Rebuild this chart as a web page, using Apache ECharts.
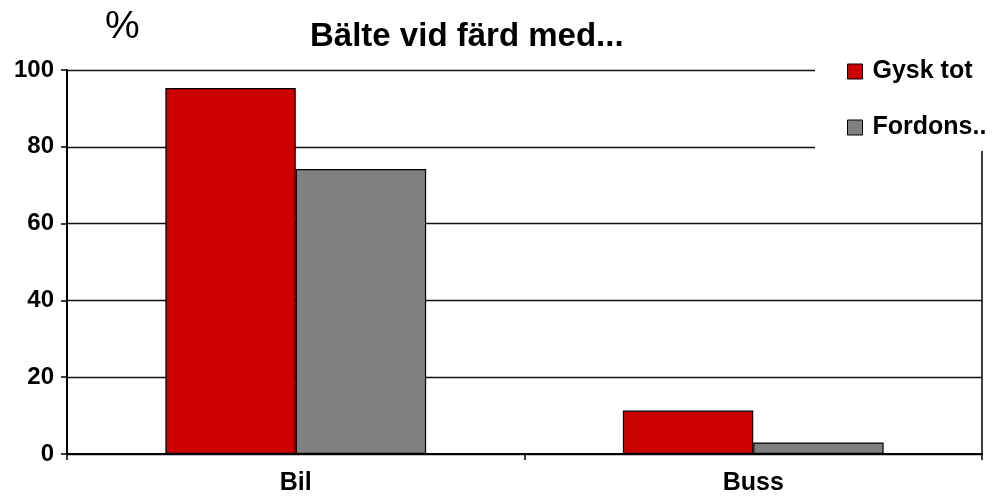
<!DOCTYPE html>
<html>
<head>
<meta charset="utf-8">
<script src="https://cdn.jsdelivr.net/npm/echarts@6/dist/echarts.min.js"></script>
<style>
  html, body { margin: 0; padding: 0; background: #fff; }
  #chart { width: 996px; height: 496px; }
</style>
</head>
<body>
<div id="chart"></div>
<script>
// data
const categories = ['Bil', 'Buss'];
const gyskTot = [95.3, 11.3];
const fordons = [74.2, 3.0];
const seriesNames = ['Gysk tot', 'Fordons..'];
const yTicks = { min: 0, max: 100, interval: 20 };

const font = '"Liberation Sans", Arial, sans-serif';
const chart = echarts.init(document.getElementById('chart'));

chart.setOption({
  animation: false,
  backgroundColor: '#fff',
  title: [
    {
      text: 'Bälte vid färd med...',
      left: 305, top: 15,
      textStyle: { fontFamily: font, fontSize: 33, fontWeight: 'bold', color: '#000' },
    },
    {
      text: '%',
      left: 100, top: 3,
      textStyle: { fontFamily: font, fontSize: 39, fontWeight: 'normal', color: '#000' },
    },
  ],
  legend: {
    orient: 'vertical',
    left: 815, top: 50,
    padding: [9, 10, 11, 32],
    itemGap: 31,
    itemWidth: 15, itemHeight: 15,
    backgroundColor: '#fff',
    icon: 'rect',
    data: seriesNames,
    itemStyle: { borderColor: '#000', borderWidth: 1 },
    textStyle: { fontFamily: font, fontSize: 25, fontWeight: 'bold', color: '#000', padding: [0, 0, 0, 5] },
  },
  grid: { left: 67, right: 14, top: 70, bottom: 42 },
  xAxis: {
    type: 'category',
    data: categories,
    boundaryGap: true,
    axisLine: { lineStyle: { color: '#000', width: 2 } },
    axisTick: { show: true, length: 6, lineStyle: { color: '#000', width: 1.5 } },
    axisLabel: { fontFamily: font, fontSize: 25, fontWeight: 'bold', color: '#000', margin: 17 },
  },
  yAxis: [
    {
      type: 'value',
      min: yTicks.min, max: yTicks.max, interval: yTicks.interval,
      axisLine: { show: true, lineStyle: { color: '#000', width: 2 } },
      axisTick: { show: true, length: 6, lineStyle: { color: '#000', width: 1.5 } },
      axisLabel: { fontFamily: font, fontSize: 24, fontWeight: 'bold', color: '#000', margin: 13 },
      splitLine: { show: true, lineStyle: { color: '#111', width: 1.3 } },
    },
    {
      // right border of the plot
      type: 'value', position: 'right',
      min: yTicks.min, max: yTicks.max, interval: yTicks.interval,
      axisLine: { show: true, lineStyle: { color: '#000', width: 1.5 } },
      axisTick: { show: false },
      axisLabel: { show: false },
      splitLine: { show: false },
    },
  ],
  series: [
    {
      name: seriesNames[0], type: 'bar', data: gyskTot,
      barGap: '0%', barCategoryGap: '43%',
      itemStyle: { color: '#CC0000', borderColor: '#000', borderWidth: 1.2 },
    },
    {
      name: seriesNames[1], type: 'bar', data: fordons,
      barGap: '0%', barCategoryGap: '43%',
      itemStyle: { color: '#808080', borderColor: '#000', borderWidth: 1.2 },
    },
  ],
});
</script>
</body>
</html>
